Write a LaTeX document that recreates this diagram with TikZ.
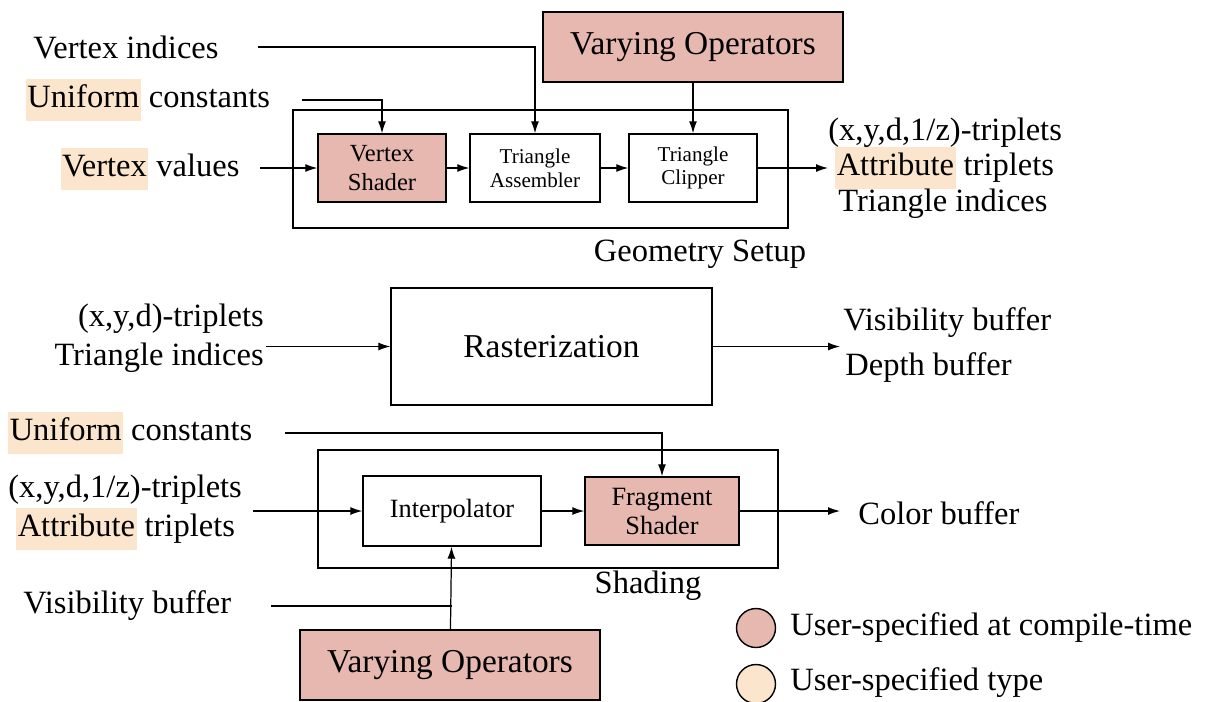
\documentclass[tikz,border=0pt]{standalone}
\usepackage{fontspec}
\setmainfont{Liberation Serif}
\usetikzlibrary{arrows.meta}
\definecolor{usercol}{RGB}{230,184,176}
\definecolor{typecol}{RGB}{252,229,205}
\newcommand{\hlword}[1]{{\setlength{\fboxsep}{0.8pt}\colorbox{typecol}{\strut #1}}}

\begin{document}
\begin{tikzpicture}[
  x=0.02cm, y=-0.02cm,
  every node/.style={font=\fontsize{18.5}{22}\selectfont, inner sep=0pt},
  box/.style={draw, line width=0.8pt, align=center, minimum height=1.36cm},
  userbox/.style={box, fill=usercol},
  smallfont/.style={font=\fontsize{12}{13.5}\selectfont},
  midfont/.style={font=\fontsize{15}{16.5}\selectfont},
  bigfont/.style={font=\fontsize{19}{22}\selectfont},
  arr/.style={-{Latex[length=2.4mm,width=1.6mm]}, line width=0.7pt},
  conn/.style={line width=0.7pt},
  legdot/.style={draw, circle, line width=0.8pt, minimum size=0.78cm}
]
\useasboundingbox (0,0) rectangle (1206,701);

% geometry setup
\node[box, minimum width=9.9cm, minimum height=2.36cm] (geom) at (540.5,169) {};
\node[userbox, font=\fontsize{14}{16.5}\selectfont, minimum width=2.56cm] (vshader) at (382,168) {Vertex\\Shader};
\node[box, smallfont, minimum width=2.6cm] (tassem) at (535,168) {Triangle\\Assembler};
\node[box, smallfont, minimum width=2.56cm] (tclip) at (693,168) {Triangle\\Clipper};
\node[userbox, bigfont, minimum width=6cm, minimum height=1.4cm] (vop1) at (693,47) {Varying Operators};
\node (geomlab) at (700,254) {Geometry Setup};

\node (vind) at (126,47) {Vertex indices};
\node (ucon1) at (148,100) {\hlword{Uniform} constants};
\node (vval) at (150,169) {\hlword{Vertex} values};
\node[anchor=west] (gout1) at (828,133) {(x,y,d,1/z)-triplets};
\node[anchor=west] (gout2) at (835,168) {\hlword{Attribute} triplets};
\node[anchor=west] (gout3) at (838,204) {Triangle indices};

\coordinate (vind-out) at (258,47);
\coordinate (ucon1-out) at (302,100);
\coordinate (vval-out) at (260,168);
\coordinate (gout) at (828,168);

\draw[arr] (vind-out) -| (tassem.north);
\draw[arr] (ucon1-out) -| (vshader.north);
\draw[arr] (vval-out) -- (vshader.west);
\draw[arr] (vshader) -- (tassem);
\draw[arr] (tassem) -- (tclip);
\draw[arr] (vop1) -- (tclip);
\draw[arr] (tclip.east) -- (gout);

% rasterization
\node[box, bigfont, minimum width=6.42cm, minimum height=2.34cm] (rast) at (551.5,346.5) {Rasterization};
\node[anchor=east] (rin1) at (264,319) {(x,y,d)-triplets};
\node[anchor=east] (rin2) at (264,358) {Triangle indices};
\node[anchor=west] (rout1) at (843,323) {Visibility buffer};
\node[anchor=west] (rout2) at (845,368) {Depth buffer};

\coordinate (rin) at (266,346.5);
\coordinate (rout) at (840,346.5);

\draw[arr] (rin) -- (rast.west);
\draw[arr] (rast.east) -- (rout);

% shading
\node[box, minimum width=9.2cm, minimum height=2.36cm] (shade) at (548,509) {};
\node[box, midfont, minimum width=3.56cm, minimum height=1.4cm] (interp) at (452,511) {Interpolator};
\node[userbox, midfont, minimum width=3.08cm] (fshader) at (662,511) {Fragment\\Shader};
\node[userbox, bigfont, minimum width=6cm, minimum height=1.4cm] (vop2) at (450,665) {Varying Operators};
\node (shadelab) at (648,586) {Shading};

\node[anchor=west] (ucon2) at (8,433) {\hlword{Uniform} constants};
\node[anchor=west] (sin1) at (8,490) {(x,y,d,1/z)-triplets};
\node[anchor=west] (sin2) at (16,529) {\hlword{Attribute} triplets};
\node[anchor=west] (sout) at (858,513) {Color buffer};
\node[anchor=west] (vbuf) at (23,606) {Visibility buffer};

\coordinate (ucon2-out) at (285,433);
\coordinate (sin) at (253,511);
\coordinate (soutc) at (840,511);
\coordinate (vbuf-out) at (271,606);

\draw[arr] (ucon2-out) -| (fshader.north);
\draw[arr] (sin) -- (interp.west);
\draw[arr] (interp) -- (fshader);
\draw[arr] (fshader.east) -- (soutc);
\draw[conn] (vbuf-out) -- (vbuf-out -| interp.south);
\draw[arr] (vop2) -- (interp);

% legend
\node[legdot, fill=usercol] (leg1) at (756,628) {};
\node[legdot, fill=typecol] (leg2) at (756,684) {};
\node[anchor=west] (leg1lab) at (790,627) {User-specified at compile-time};
\node[anchor=west] (leg2lab) at (790,683) {User-specified type};
\end{tikzpicture}
\end{document}
